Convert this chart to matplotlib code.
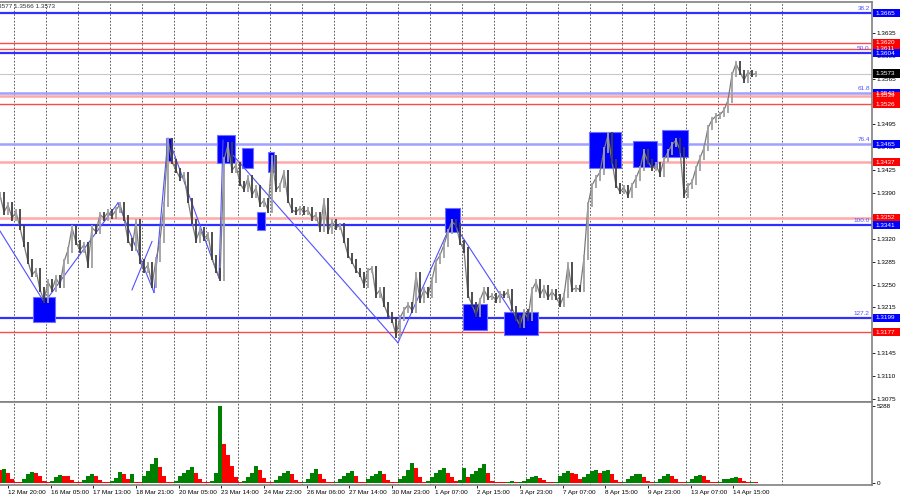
import matplotlib
matplotlib.use('Agg')
import matplotlib.pyplot as plt
import matplotlib.transforms as mtransforms
from matplotlib.patches import Rectangle
import numpy as np

plt.rcParams['font.family'] = ['Liberation Sans', 'DejaVu Sans']

# H1 closes, one value every 3 bars
close = [1.3387, 1.3361, 1.3372, 1.3352, 1.3361, 1.3337, 1.3311, 1.3285, 1.3265, 1.3272,
         1.3242, 1.3226, 1.3254, 1.3242, 1.3260, 1.3249, 1.3285, 1.3303, 1.3337, 1.3315,
         1.3303, 1.3311, 1.3280, 1.3337, 1.3331, 1.3357, 1.3352, 1.3361, 1.3355, 1.3364,
         1.3373, 1.3352, 1.3318, 1.3306, 1.3346, 1.3285, 1.3272, 1.3280, 1.3249, 1.3288,
         1.3318, 1.3372, 1.3471, 1.3438, 1.3425, 1.3413, 1.3418, 1.3379, 1.3346, 1.3318,
         1.3334, 1.3321, 1.3326, 1.3291, 1.3272, 1.3260, 1.3441, 1.3464, 1.3425, 1.3433,
         1.3405, 1.3395, 1.3413, 1.3387, 1.3398, 1.3372, 1.3379, 1.3364, 1.3444, 1.3395,
         1.3402, 1.3422, 1.3379, 1.3364, 1.3361, 1.3367, 1.3361, 1.3364, 1.3352, 1.3357,
         1.3334, 1.3379, 1.3331, 1.3346, 1.3337, 1.3341, 1.3318, 1.3295, 1.3285, 1.3272,
         1.3265, 1.3249, 1.3272, 1.3275, 1.3234, 1.3242, 1.3219, 1.3204, 1.3196, 1.3173,
         1.3199, 1.3211, 1.3219, 1.3211, 1.3265, 1.3226, 1.3242, 1.3234, 1.3257, 1.3285,
         1.3295, 1.3311, 1.3331, 1.3346, 1.3341, 1.3315, 1.3303, 1.3234, 1.3219, 1.3204,
         1.3226, 1.3242, 1.3230, 1.3233, 1.3226, 1.3236, 1.3233, 1.3239, 1.3214, 1.3199,
         1.3188, 1.3208, 1.3199, 1.3242, 1.3254, 1.3234, 1.3245, 1.3230, 1.3239, 1.3231,
         1.3219, 1.3233, 1.3280, 1.3242, 1.3245, 1.3242, 1.3291, 1.3372, 1.3402, 1.3413,
         1.3422, 1.3456, 1.3479, 1.3438, 1.3402, 1.3392, 1.3398, 1.3386, 1.3402, 1.3413,
         1.3428, 1.3453, 1.3438, 1.3428, 1.3433, 1.3419, 1.3441, 1.3453, 1.3464, 1.3471,
         1.3456, 1.3387, 1.3401, 1.3407, 1.3428, 1.3444, 1.3459, 1.3490, 1.3502, 1.3508,
         1.3510, 1.3517, 1.3532, 1.3571, 1.3588, 1.3575, 1.3563, 1.3575, 1.3571, 1.3573]

volume = [880, 950, 700, 300, 100, 80, 300, 600, 750, 700,
          450, 150, 80, 150, 400, 550, 500, 450, 200, 80,
          60, 200, 450, 600, 500, 200, 80, 60, 150, 350,
          750, 600, 300, 600, 100, 80, 500, 800, 1300, 1700,
          1100, 500, 100, 80, 150, 500, 700, 900, 1100, 700,
          300, 100, 80, 150, 700, 5288, 2700, 1900, 1200, 400,
          80, 150, 400, 700, 1200, 900, 350, 80, 60, 200,
          500, 700, 800, 600, 200, 60, 80, 300, 700, 950,
          600, 300, 100, 80, 100, 300, 500, 700, 800, 500,
          100, 80, 300, 450, 650, 800, 600, 200, 100, 80,
          250, 500, 900, 1400, 1000, 400, 80, 150, 400, 700,
          900, 1000, 700, 400, 150, 200, 1000, 400, 600, 800,
          1000, 1300, 700, 150, 80, 60, 60, 100, 150, 60,
          80, 150, 300, 400, 450, 350, 200, 80, 60, 100,
          500, 700, 800, 700, 600, 300, 400, 600, 800, 900,
          700, 850, 900, 600, 200, 80, 100, 250, 450, 600,
          650, 400, 150, 60, 80, 300, 500, 650, 500, 250,
          100, 60, 80, 250, 450, 550, 450, 200, 60, 60,
          100, 250, 300, 350, 400, 350, 150, 80, 100, 60]

time_labels = ['12 Mar 20:00', '16 Mar 05:00', '17 Mar 13:00', '18 Mar 21:00', '20 Mar 05:00',
               '23 Mar 14:00', '24 Mar 22:00', '26 Mar 06:00', '27 Mar 14:00', '30 Mar 23:00',
               '1 Apr 07:00', '2 Apr 15:00', '3 Apr 23:00', '7 Apr 07:00', '8 Apr 15:00',
               '9 Apr 23:00', '13 Apr 07:00', '14 Apr 15:00']

# horizontal levels
levels = [1.3665, 1.3620, 1.3611, 1.3604, 1.3573, 1.3543, 1.3539, 1.3526,
          1.3465, 1.3437, 1.3352, 1.3341, 1.3199, 1.3177]
level_kind = ['fib', 'red', 'red', 'fib', 'cur', 'fibl', 'pink', 'red',
              'fibl', 'pink', 'pink', 'fib', 'fib', 'red']
fib_levels = [1.3665, 1.3604, 1.3543, 1.3465, 1.3341, 1.3199]
fib_names = ['38.2', '50.0', '61.8', '76.4', '100.0', '127.2']

# blue zones (start bar, end bar, low, high)
zone_t0 = [24.75, 124.5, 162.75, 181.5, 192.75, 201, 333.75, 347.25, 378, 441.75, 474.75, 496.5]
zone_t1 = [41.25, 129, 176.25, 189.75, 198.75, 205.5, 345, 365.25, 403.5, 465.75, 492.75, 516]
zone_lo = [1.3193, 1.3439, 1.3436, 1.3428, 1.3334, 1.3422, 1.3331, 1.3180, 1.3173, 1.3428, 1.3430, 1.3445]
zone_hi = [1.3231, 1.3475, 1.3479, 1.3459, 1.3361, 1.3453, 1.3367, 1.3220, 1.3208, 1.3483, 1.3469, 1.3486]

# zigzag trend lines
zz_t0 = [0, 36, 88.5, 99, 115.5, 129, 164.25, 174.75, 298.5, 344.25]
zz_p0 = [1.3332, 1.3230, 1.3375, 1.3242, 1.3238, 1.3459, 1.3260, 1.3448, 1.3161, 1.3331]
zz_t1 = [32.25, 88.5, 115.5, 114, 126, 164.25, 167.25, 298.5, 339, 384]
zz_p1 = [1.3226, 1.3375, 1.3238, 1.3316, 1.3474, 1.3260, 1.3471, 1.3161, 1.3346, 1.3207]

kind_style = {'fib': ('#3030ff', 1.6), 'fibl': ('#a0a0ff', 1.8), 'red': ('#ff4848', 1.0),
              'pink': ('#ffa8a8', 1.8), 'cur': ('#c8c8c8', 0.8)}
box_color = {'fib': '#0000ff', 'fibl': '#0000ff', 'red': '#ff0000', 'pink': '#ff0000', 'cur': '#000000'}

bars = np.arange(len(close)) * 3
grid_bars = np.arange(10.5, 590, 24)
label_bars = np.arange(len(time_labels)) * 32 + 6

fig = plt.figure(figsize=(9, 5), dpi=100)
ax = fig.add_axes([0, 98 / 500, 872 / 900, 400 / 500])
axv = fig.add_axes([0, 15 / 500, 872 / 900, 83 / 500])
FS = 4.6

for a in (ax, axv):
    a.set_xlim(0, 654)
    for g in grid_bars:
        a.axvline(g, color='#404040', lw=0.6, ls=(0, (2, 2)), zorder=0.5)
    a.spines['left'].set_visible(False)
    for s in ('top', 'right', 'bottom'):
        a.spines[s].set_color('#808080')
        a.spines[s].set_linewidth(1.2)
    a.yaxis.tick_right()
    a.tick_params(axis='y', length=2, width=0.6, pad=1.5, labelsize=FS, colors='#000000')

ax.set_ylim(1.30704, 1.36824)
ax.tick_params(axis='x', bottom=False, labelbottom=False)
yt = np.round(np.arange(1.3075, 1.3640, 0.0035), 4)
ax.set_yticks(yt)
ax.set_yticklabels(['%.4f' % v for v in yt])

# level lines
for lv, kd in zip(levels, level_kind):
    c, w = kind_style[kd]
    ax.axhline(lv, color=c, lw=w, zorder=1)

# blue zones
for t0, t1, lo, hi in zip(zone_t0, zone_t1, zone_lo, zone_hi):
    ax.add_patch(Rectangle((t0, lo), t1 - t0, hi - lo, facecolor='#0000ff',
                           edgecolor='#7070ff', lw=0.8, zorder=2))

# zigzag
for t0, p0, t1, p1 in zip(zz_t0, zz_p0, zz_t1, zz_p1):
    ax.plot([t0, t1], [p0, p1], color='#5050ff', lw=0.8, zorder=3)

# price bars
ax.plot(bars, close, color='#7a7a7a', lw=0.9, zorder=4)
prev = [close[0]] + close[:-1]
for b, p, c in zip(bars, prev, close):
    lo = min(p, c) - 0.0004
    hi = max(p, c) + 0.0004
    col = '#a0a0a0' if c >= p else '#404040'
    ax.vlines(b, lo, hi, color=col, lw=1.3, zorder=4)

# fib labels
trans = mtransforms.blended_transform_factory(ax.transAxes, ax.transData)
for lv, nm in zip(fib_levels, fib_names):
    ax.text(0.9975, lv + 0.0003, nm, transform=trans,
            ha='right', va='bottom', fontsize=FS, color='#5050ff', zorder=5)

# price boxes on the right axis
for lv, kd in zip(levels, level_kind):
    ax.add_patch(Rectangle((1.001, lv - 0.00062), 0.033, 0.00124, transform=trans,
                           facecolor=box_color[kd], edgecolor='none', clip_on=False, zorder=6))
    ax.text(1.004, lv, '%.4f' % lv, transform=trans, ha='left', va='center',
            fontsize=FS, color='white', clip_on=False, zorder=7)

ax.text(0.063, 0.997, 'GBPUSD,H1  1.3569 1.3577 1.3566 1.3573', transform=ax.transAxes,
        ha='right', va='top', fontsize=FS, color='#303030')

# volume
vol_prev = [volume[0]] + volume[:-1]
vcol = ['#008000' if v > pv else '#ff0000' for v, pv in zip(volume, vol_prev)]
axv.bar(bars, volume, width=3, color=vcol, zorder=2)
axv.set_ylim(-139, 5566)
axv.set_yticks([0, 5288])
axv.set_yticklabels(['0', '5288'])
axv.set_xticks(label_bars)
axv.set_xticklabels(time_labels, ha='left')
axv.tick_params(axis='x', length=2, width=0.6, pad=1.5, labelsize=FS)

fig.savefig('out.png', dpi=100)
